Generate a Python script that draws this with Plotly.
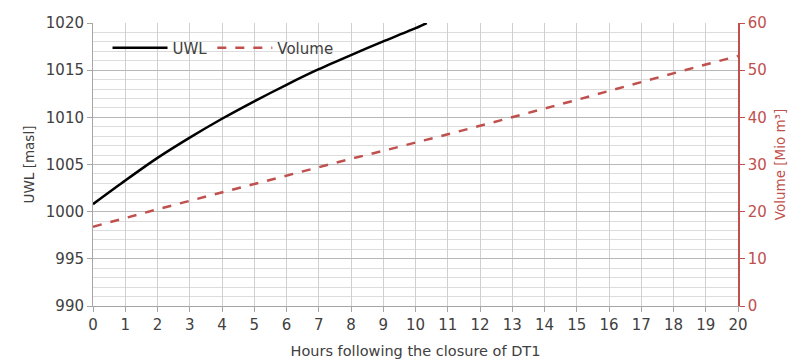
import plotly.graph_objects as go

hours = list(range(0, 21))
uwl_hours = [0, 1, 2, 3, 4, 5, 6, 7, 8, 9, 10, 10.35]
uwl = [1000.8, 1003.3, 1005.7, 1007.85, 1009.85, 1011.7, 1013.45, 1015.1, 1016.6, 1018.05, 1019.45, 1020.0]
volume = [16.8, 18.7, 20.5, 22.3, 24.1, 25.9, 27.7, 29.4, 31.2, 32.9, 34.6,
          36.4, 38.2, 40.0, 41.8, 43.7, 45.6, 47.5, 49.4, 51.2, 53.0]

red = "#c0504d"
gray_txt = "#404040"
font_family = "DejaVu Sans, sans-serif"

fig = go.Figure()
fig.add_trace(go.Scatter(x=uwl_hours, y=uwl, mode="lines", name="UWL",
                         line=dict(color="black", width=2.5, shape="spline", smoothing=0.6),
                         yaxis="y"))
fig.add_trace(go.Scatter(x=hours, y=volume, mode="lines", name="Volume",
                         line=dict(color=red, width=2.5, dash="dash"), yaxis="y2"))

fig.update_layout(
    width=800, height=361,
    margin=dict(l=93, r=62, t=23, b=55),
    paper_bgcolor="white", plot_bgcolor="white",
    font=dict(family=font_family, size=14, color=gray_txt),
    showlegend=True,
    legend=dict(orientation="h", x=0.0225, y=0.97, xanchor="left", yanchor="top",
                bgcolor="rgba(0,0,0,0)", font=dict(size=15, color=gray_txt),
                itemwidth=55, tracegroupgap=0),
    xaxis=dict(range=[0, 20], tickvals=hours, ticks="outside", ticklen=5,
               tickcolor="#a6a6a6", showline=True, linecolor="#a6a6a6",
               showgrid=True, gridcolor="#d0d0d0", zeroline=False,
               automargin=False,
               tickfont=dict(size=15, color=gray_txt),
               title=dict(text="Hours following the closure of DT1", standoff=12,
                          font=dict(size=14.5, color=gray_txt))),
    yaxis=dict(range=[990, 1020], dtick=5, ticks="outside", ticklen=5,
               tickcolor="#a6a6a6", showline=True, linecolor="#a6a6a6",
               showgrid=True, gridcolor="#b8b8b8", zeroline=False,
               automargin=False,
               minor=dict(dtick=1, showgrid=True, gridcolor="#dcdcdc"),
               tickfont=dict(size=15, color=gray_txt),
               title=dict(text="UWL [masl]", standoff=8,
                          font=dict(size=13.5, color=gray_txt))),
    yaxis2=dict(range=[0, 60], dtick=10, overlaying="y", side="right",
                ticks="outside", ticklen=5, tickcolor=red,
                showline=True, linecolor=red, linewidth=1.5,
                showgrid=False, zeroline=False, automargin=False,
                tickfont=dict(size=15, color=red),
                title=dict(text="Volume [Mio m³]", standoff=10,
                           font=dict(size=13.5, color=red))),
)

fig.write_html("out.html")
